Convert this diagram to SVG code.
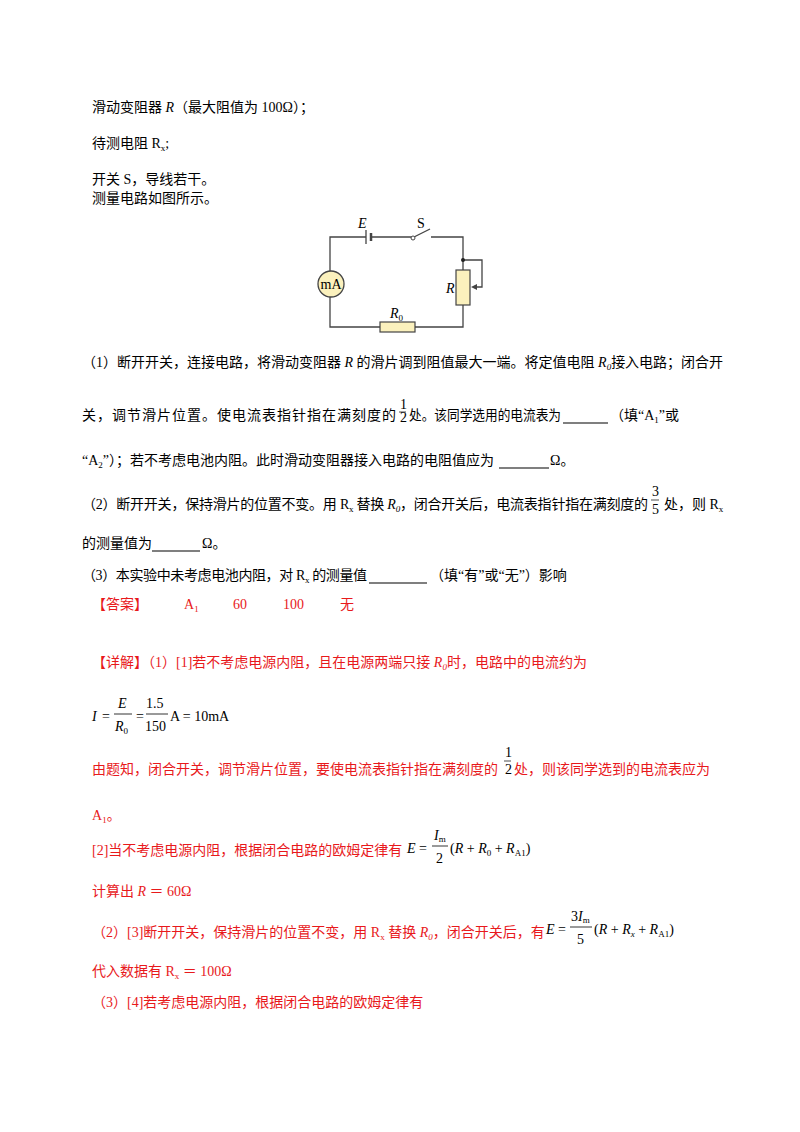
<svg xmlns="http://www.w3.org/2000/svg" width="800" height="1132" viewBox="0 0 800 1132">
<style>
text{font-family:"Liberation Serif","Noto Sans CJK SC",serif;font-size:14px;fill:#000}
.r{fill:#e8191c}
.i{font-style:italic}
.s{font-size:9px}
.w{stroke:#444;stroke-width:1.3;fill:none}
.box{fill:#fbf1bd;stroke:#444;stroke-width:1.2}
.u{stroke:#000;stroke-width:1.2}
</style>
<rect width="800" height="1132" fill="#fff"/>
<g id="text-top">
<text x="92" y="112">滑动变阻器 <tspan class="i">R</tspan>（最大阻值为 100Ω）；</text>
<text x="92" y="148">待测电阻 R<tspan class="s" dy="3">x</tspan><tspan dy="-3">;</tspan></text>
<text x="92" y="184">开关 S，导线若干。</text>
<text x="92" y="203">测量电路如图所示。</text>
</g>
<g id="connectors">
<path class="w" d="M366,237 H330 V271 M330,297 V327 H380 M415,327 H463 V237 H431 M412,237 H371"/>
<path class="w" d="M463,260 H482 V287 H474"/>
<path d="M471,287 L477,284 L477,290 Z" fill="#444"/>
<line class="w" x1="366" y1="230" x2="366" y2="244"/>
<line x1="371" y1="233" x2="371" y2="241" stroke="#444" stroke-width="2.5"/>
<line class="w" x1="414" y1="237" x2="430" y2="229"/>
<circle cx="463" cy="260" r="2" fill="#222"/>
</g>
<g id="switch"><circle cx="413" cy="238" r="2" fill="#fff" stroke="#444"/><text x="417" y="228">S</text></g>
<g id="battery"><text class="i" x="358" y="228">E</text></g>
<g id="ammeter"><circle cx="331" cy="284" r="13" fill="#fbf1bd" stroke="#444" stroke-width="1.3"/><text x="331" y="289" text-anchor="middle" font-size="13">mA</text></g>
<g id="rheostat"><rect class="box" x="456" y="270" width="14" height="35"/><text class="i" x="446" y="293">R</text></g>
<g id="R0"><rect class="box" x="380" y="322" width="35" height="10"/><text class="i" x="390" y="318">R<tspan class="s" dy="3" font-style="normal">0</tspan></text></g>
<g id="questions">
<text x="82" y="367">（1）断开开关，连接电路，将滑动变阻器 <tspan class="i">R</tspan> 的滑片调到阻值最大一端。将定值电阻 <tspan class="i">R<tspan class="s" dy="3">0</tspan></tspan><tspan dy="-3">接入电路；闭合开</tspan></text>
<text x="82" y="420" textLength="314" lengthAdjust="spacing">关，调节滑片位置。使电流表指针指在满刻度的</text>
<text x="400" y="409" font-size="10">1</text><line x1="399" y1="412" x2="406" y2="412" stroke="#000" stroke-width="0.7"/><text x="400" y="422" font-size="10">2</text>
<text x="409" y="420" textLength="152" lengthAdjust="spacingAndGlyphs">处。该同学选用的电流表为</text><line class="u" x1="563" y1="423" x2="608" y2="423"/>
<text x="610" y="420">（填“A<tspan class="s" dy="3">1</tspan><tspan dy="-3">”或</tspan></text>
<text x="82" y="465">“A<tspan class="s" dy="3">2</tspan><tspan dy="-3">”）；若不考虑电池内阻。此时滑动变阻器接入电路的电阻值应为</tspan></text><line class="u" x1="499" y1="468" x2="549" y2="468"/><text x="550" y="465">Ω。</text>
<text x="82" y="509" textLength="566" lengthAdjust="spacing">（2）断开开关，保持滑片的位置不变。用 R<tspan class="s" dy="3">x</tspan><tspan dy="-3"> 替换 </tspan><tspan class="i">R<tspan class="s" dy="3">0</tspan></tspan><tspan dy="-3">，闭合开关后，电流表指针指在满刻度的</tspan></text>
<text x="652" y="496" font-size="12">3</text><line x1="651" y1="500" x2="659" y2="500" stroke="#000" stroke-width="0.7"/><text x="652" y="514" font-size="12">5</text>
<text x="664" y="509">处，则 R<tspan class="s" dy="3">x</tspan></text>
<text x="82" y="548">的测量值为</text><line class="u" x1="152" y1="551" x2="200" y2="551"/><text x="202" y="548">Ω。</text>
<text x="82" y="580" textLength="285" lengthAdjust="spacing">（3）本实验中未考虑电池内阻，对 R<tspan class="s" dy="3">x</tspan><tspan dy="-3"> 的测量值</tspan></text><line class="u" x1="369" y1="583" x2="427" y2="583"/><text x="430" y="580">（填“有”或“无”）影响</text>
</g>
<g id="answer">
<text class="r" x="92" y="609">【答案】</text>
<text class="r" x="184" y="609">A<tspan class="s" dy="3">1</tspan></text>
<text class="r" x="233" y="609">60</text>
<text class="r" x="283" y="609">100</text>
<text class="r" x="340" y="609">无</text>
<text class="r" x="92" y="667">【详解】（1）[1]若不考虑电源内阻，且在电源两端只接 <tspan class="i">R<tspan class="s" dy="3">0</tspan></tspan><tspan dy="-3">时，电路中的电流约为</tspan></text>
<text x="92" y="721" class="i">I</text><text x="102" y="721">=</text>
<text x="118" y="708" class="i">E</text><line x1="114" y1="714" x2="132" y2="714" stroke="#000" stroke-width="0.8"/><text x="115" y="731" class="i">R<tspan class="s" dy="3" font-style="normal">0</tspan></text>
<text x="136" y="721">=</text>
<text x="146" y="708">1.5</text><line x1="146" y1="714" x2="168" y2="714" stroke="#000" stroke-width="0.8"/><text x="145" y="731">150</text>
<text x="170" y="721">A = 10mA</text>
<text class="r" x="92" y="774">由题知，闭合开关，调节滑片位置，要使电流表指针指在满刻度的</text>
<text x="505" y="757" font-size="10">1</text><line x1="504" y1="761" x2="511" y2="761" stroke="#000" stroke-width="0.7"/><text x="505" y="774" font-size="10">2</text>
<text class="r" x="514" y="774">处，则该同学选到的电流表应为</text>
<text class="r" x="92" y="820">A<tspan class="s" dy="3">1</tspan><tspan dy="-3">。</tspan></text>
<text class="r" x="92" y="855">[2]当不考虑电源内阻，根据闭合电路的欧姆定律有</text>
<text x="407" y="853" class="i">E</text><text x="419" y="853">=</text>
<text x="434" y="840" class="i">I<tspan class="s" dy="2" font-style="normal">m</tspan></text><line x1="432" y1="846" x2="448" y2="846" stroke="#000" stroke-width="0.8"/><text x="436" y="863">2</text>
<text x="450" y="853">(<tspan class="i">R</tspan> + <tspan class="i">R</tspan><tspan class="s" dy="3">0</tspan><tspan dy="-3"> + </tspan><tspan class="i">R</tspan><tspan class="s" dy="3">A1</tspan><tspan dy="-3">)</tspan></text>
<text class="r" x="92" y="896">计算出 <tspan class="i">R</tspan> ＝ 60Ω</text>
<text class="r" x="92" y="937">（2）[3]断开开关，保持滑片的位置不变，用 R<tspan class="s" dy="3">x</tspan><tspan dy="-3"> 替换 </tspan><tspan class="i">R<tspan class="s" dy="3">0</tspan></tspan><tspan dy="-3">，闭合开关后，有</tspan></text>
<text x="546" y="934" class="i">E</text><text x="558" y="934">=</text>
<text x="571" y="921">3<tspan class="i">I</tspan><tspan class="s" dy="2">m</tspan></text><line x1="570" y1="927" x2="592" y2="927" stroke="#000" stroke-width="0.8"/><text x="577" y="944">5</text>
<text x="594" y="934">(<tspan class="i">R</tspan> + <tspan class="i">R</tspan><tspan class="s i" dy="3">x</tspan><tspan dy="-3"> + </tspan><tspan class="i">R</tspan><tspan class="s" dy="3">A1</tspan><tspan dy="-3">)</tspan></text>
<text class="r" x="92" y="976">代入数据有 R<tspan class="s" dy="3">x</tspan><tspan dy="-3"> ＝ 100Ω</tspan></text>
<text class="r" x="92" y="1007">（3）[4]若考虑电源内阻，根据闭合电路的欧姆定律有</text>
</g>
</svg>
